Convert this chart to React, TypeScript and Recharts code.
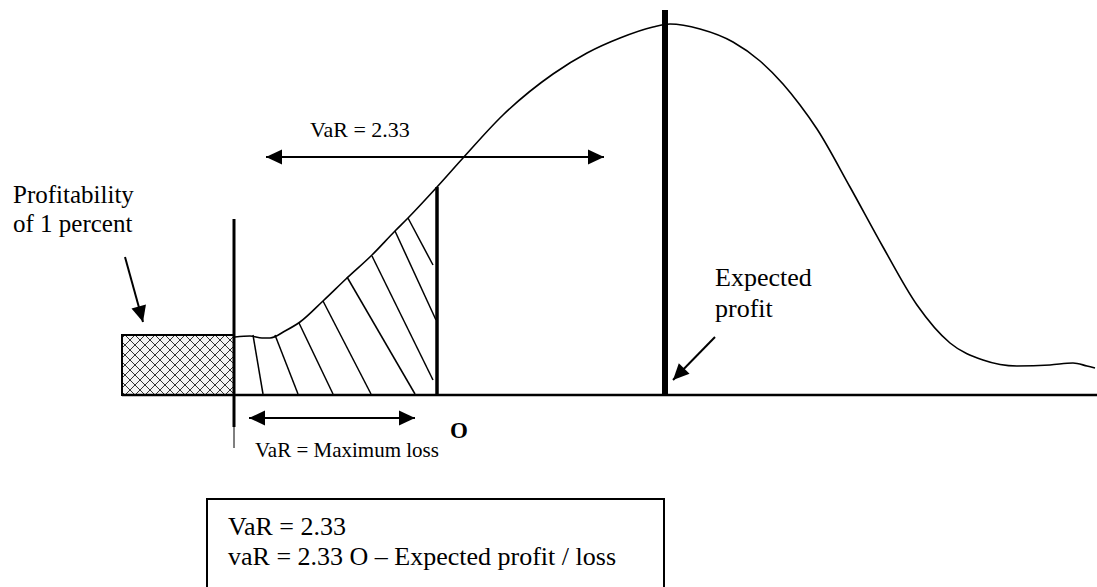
import React from 'react';
import {
  ComposedChart,
  Line,
  XAxis,
  YAxis,
  ReferenceLine,
  ReferenceArea,
  ReferenceDot,
} from 'recharts';

// Diagram units: x runs left to right, y is height above the baseline (0).
const curve = [
  { x: 235, y: 58 }, { x: 250, y: 59 }, { x: 262, y: 57 }, { x: 270, y: 57 },
  { x: 285, y: 64 }, { x: 300, y: 73 }, { x: 323, y: 94 }, { x: 347, y: 117 },
  { x: 372, y: 140 }, { x: 395, y: 164 }, { x: 408, y: 177 }, { x: 437, y: 208 },
  { x: 463, y: 237 }, { x: 503, y: 280 }, { x: 553, y: 321 }, { x: 587, y: 342 },
  { x: 620, y: 357 }, { x: 653, y: 368 }, { x: 670, y: 371 }, { x: 700, y: 366 },
  { x: 733, y: 353 }, { x: 760, y: 334 }, { x: 783, y: 311 }, { x: 800, y: 290 },
  { x: 817, y: 266 }, { x: 850, y: 208 }, { x: 883, y: 148 }, { x: 917, y: 90 },
  { x: 950, y: 52 }, { x: 983, y: 35 }, { x: 1017, y: 29 }, { x: 1050, y: 30 },
  { x: 1073, y: 32 }, { x: 1087, y: 29 }, { x: 1095, y: 27 },
];

// Hatch strokes under the left tail [x1, y1, x2, y2]
const hatches = [
  [253, 60, 263, 1], [275, 60, 298, 1], [299, 72, 333, 1], [323, 94, 371, 1],
  [347, 118, 415, 1], [372, 139, 433, 15], [395, 164, 436, 75], [408, 177, 433, 130],
];

// Vertical bars [x, yBottom, yTop, weight]
const bars = [
  [234, -32, 176, 3],
  [234, -53, -32, 1],
  [437, 0, 208, 3.5],
  [665, 0, 385, 6],
];

// Arrows [x1, y1, x2, y2, headAtStart, headAtEnd]
const arrows = [
  [266, 238, 604, 238, 1, 1],
  [249, -23, 415, -23, 1, 1],
  [125, 138, 143, 73, 0, 1],
  [715, 58, 673, 15, 0, 1],
];

// Text labels
const labelTexts = ['VaR = 2.33', 'Profitability', 'of 1 percent', 'Expected', 'profit', 'O', 'VaR = Maximum loss', 'VaR = 2.33', 'vaR = 2.33 O \u2013 Expected profit / loss'];
const labelX = [310, 13, 13, 715, 715, 450, 255, 228, 228];
const labelY = [258, 192, 163, 109, 78, -43, -62, -140, -170];
const labelSize = [22, 25, 25, 26, 26, 23, 21, 26, 26];
const labelBold = [0, 0, 0, 0, 0, 1, 0, 0, 0];

const FONT = "'Liberation Serif', 'Times New Roman', Times, serif";

const makeText = (text: string, size: number, bold: boolean) => (props: any) => (
  <text
    x={props.cx}
    y={props.cy}
    fontSize={size}
    fontFamily={FONT}
    fontWeight={bold ? 'bold' : 'normal'}
    fill="#000"
    textAnchor="start"
  >
    {text}
  </text>
);

const makeHead = (angleDeg: number) => (props: any) => (
  <polygon
    points="0,0 -16,-7.5 -16,7.5"
    fill="#000"
    transform={`translate(${props.cx},${props.cy}) rotate(${angleDeg})`}
  />
);

export default function App() {
  const heads: any[] = [];
  arrows.forEach((a, i) => {
    const [x1, y1, x2, y2, hs, he] = a;
    const ang = (Math.atan2(-(y2 - y1), x2 - x1) * 180) / Math.PI;
    if (he) heads.push({ key: `he${i}`, x: x2, y: y2, ang });
    if (hs) heads.push({ key: `hs${i}`, x: x1, y: y1, ang: ang + 180 });
  });

  return (
    <div style={{ position: 'absolute', left: 0, top: 0, background: '#fff' }}>
      <ComposedChart
        width={1097}
        height={587}
        data={curve}
        margin={{ top: 0, right: 0, bottom: 0, left: 0 }}
      >
        <defs>
          <pattern id="crosshatch" width="10" height="10" patternUnits="userSpaceOnUse">
            <rect width="10" height="10" fill="#f4f4f4" />
            <path d="M0,0 L10,10 M10,0 L0,10" stroke="#333" strokeWidth="1" />
          </pattern>
        </defs>
        <XAxis dataKey="x" type="number" domain={[0, 1097]} hide allowDataOverflow />
        <YAxis type="number" domain={[-192, 395]} hide allowDataOverflow />

        <ReferenceArea
          x1={122}
          x2={234}
          y1={0}
          y2={60}
          fill="url(#crosshatch)"
          fillOpacity={1}
          stroke="#000"
          strokeWidth={2}
          ifOverflow="visible"
        />

        <ReferenceArea
          x1={207}
          x2={664}
          y1={-104}
          y2={-215}
          fill="none"
          stroke="#000"
          strokeWidth={2}
          ifOverflow="visible"
        />

        <ReferenceLine
          segment={[{ x: 122, y: 0 }, { x: 1097, y: 0 }]}
          stroke="#000"
          strokeWidth={2.5}
          ifOverflow="visible"
        />

        {hatches.map((h, i) => (
          <ReferenceLine
            key={`h${i}`}
            segment={[{ x: h[0], y: h[1] }, { x: h[2], y: h[3] }]}
            stroke="#000"
            strokeWidth={1.5}
            ifOverflow="visible"
          />
        ))}

        {bars.map((b, i) => (
          <ReferenceLine
            key={`b${i}`}
            segment={[{ x: b[0], y: b[1] }, { x: b[0], y: b[2] }]}
            stroke="#000"
            strokeWidth={b[3]}
            ifOverflow="visible"
          />
        ))}

        {arrows.map((a, i) => (
          <ReferenceLine
            key={`a${i}`}
            segment={[{ x: a[0], y: a[1] }, { x: a[2], y: a[3] }]}
            stroke="#000"
            strokeWidth={2}
            ifOverflow="visible"
          />
        ))}

        <Line
          type="monotone"
          dataKey="y"
          stroke="#000"
          strokeWidth={1.6}
          dot={false}
          activeDot={false}
          isAnimationActive={false}
        />

        {heads.map((h) => (
          <ReferenceDot
            key={h.key}
            x={h.x}
            y={h.y}
            r={1}
            ifOverflow="visible"
            shape={makeHead(h.ang)}
          />
        ))}

        {labelTexts.map((t, i) => (
          <ReferenceDot
            key={`t${i}`}
            x={labelX[i]}
            y={labelY[i]}
            r={1}
            ifOverflow="visible"
            shape={makeText(t, labelSize[i], !!labelBold[i])}
          />
        ))}
      </ComposedChart>
    </div>
  );
}
